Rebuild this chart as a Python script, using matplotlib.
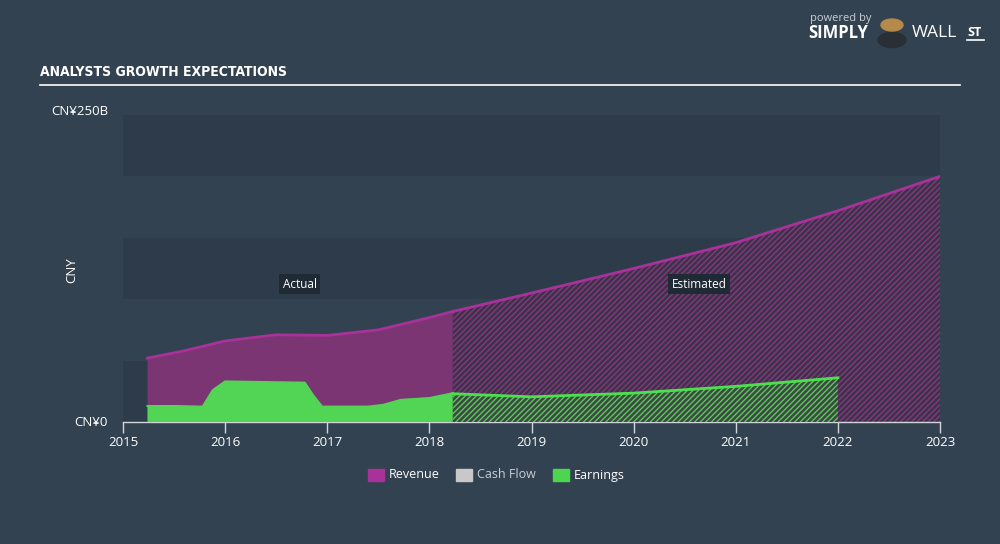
import matplotlib.pyplot as plt
import numpy as np

# data, in CNY billions
rev_act_x = [2015.24, 2015.6, 2016.0, 2016.5, 2017.0, 2017.5, 2018.0, 2018.23]
rev_act_y = [52, 58, 66, 71, 70.5, 75, 85, 90]
rev_est_x = [2018.23, 2019.0, 2020.0, 2021.0, 2022.0, 2023.0]
rev_est_y = [90, 105, 125, 146, 172, 200]

earn_act_x = [2015.24, 2015.5, 2015.78, 2015.88, 2016.0, 2016.4, 2016.78, 2016.86,
              2016.95, 2017.4, 2017.55, 2017.72, 2018.0, 2018.15, 2018.23]
earn_act_y = [13, 13, 12.5, 26, 33, 32.5, 32, 22, 12.5, 12.5, 14, 18, 19.5, 22, 23.5]
earn_est_x = [2018.23, 2019.0, 2020.0, 2021.0, 2022.0]
earn_est_y = [23, 20.5, 23.5, 29, 36]

years = list(range(2015, 2024))
legend_names = ["Revenue", "Cash Flow", "Earnings"]
legend_colors = ["#a8329a", "#c8c8c8", "#4cd54f"]

bg = "#334250"
band_dark = "#2e3b4a"

plt.rcParams['font.family'] = ['Open Sans', 'DejaVu Sans']
plt.rcParams['hatch.linewidth'] = 1.0

fig = plt.figure(figsize=(10, 5.44), dpi=100, facecolor=bg)
ax = fig.add_axes([0.123, 0.2243, 0.817, 0.5643])
ax.set_facecolor(bg)
ax.set_xlim(2015, 2023)
ax.set_ylim(0, 250)

# alternating bands
for lo in (0, 100, 200):
    ax.axhspan(lo, lo + 50, color=band_dark, lw=0, zorder=0)

# actual
ax.fill_between(rev_act_x, 0, rev_act_y, facecolor="#7a3572", lw=0, zorder=2)
ax.plot(rev_act_x, rev_act_y, color="#a8329a", lw=2, zorder=4)
ax.fill_between(earn_act_x, 0, earn_act_y, facecolor="#52d454", lw=0, zorder=3)
ax.plot(earn_act_x, earn_act_y, color="#52d454", lw=1.5, zorder=4)

# estimated, hatched
ax.fill_between(rev_est_x, 0, rev_est_y, facecolor="#3a3447", hatch="//////",
                edgecolor="#8a3584", lw=0, zorder=2)
ax.plot(rev_est_x, rev_est_y, color="#a8329a", lw=2, zorder=4)
ax.fill_between(earn_est_x, 0, earn_est_y, facecolor="#3a4a42", hatch="//////",
                edgecolor="#5fc65c", lw=0, zorder=3)
ax.plot(earn_est_x, earn_est_y, color="#4ce04c", lw=2, zorder=4)

ax.text(2016.73, 112, "Actual", color="white", fontsize=8.5, ha="center", va="center",
        bbox=dict(boxstyle="square,pad=0.3", fc="#1f2a35", ec="none"), zorder=6)
ax.text(2020.64, 112, "Estimated", color="white", fontsize=8.5, ha="center", va="center",
        bbox=dict(boxstyle="square,pad=0.3", fc="#1f2a35", ec="none"), zorder=6)

for s in ("top", "right", "left"):
    ax.spines[s].set_visible(False)
ax.spines["bottom"].set_color("#d0d6dc")
ax.spines["bottom"].set_linewidth(1)
ax.set_xticks(years)
ax.set_xticklabels([str(y) for y in years])
ax.tick_params(axis="x", colors="#d0d6dc", length=8, width=1, labelsize=9.5,
               labelcolor="white", pad=2)
ax.set_yticks([])

fig.text(0.108, 1 - 422 / 544, "CN¥0", color="white", fontsize=9.5, ha="right", va="center")
fig.text(0.108, 1 - 112 / 544, "CN¥250B", color="white", fontsize=9.5, ha="right", va="center")
fig.text(0.072, 1 - 270 / 544, "CNY", color="white", fontsize=9.5, rotation=90,
         ha="center", va="center")

# title + rule
fig.text(0.040, 1 - 72 / 544, "ANALYSTS GROWTH EXPECTATIONS", color="white", fontsize=10,
         fontweight="bold", fontstretch="condensed", ha="left", va="center",
         family=['DejaVu Sans'])
fig.add_artist(plt.Line2D([0.040, 0.960], [1 - 85 / 544, 1 - 85 / 544],
                          color="white", lw=1.2, transform=fig.transFigure))

# logo text
fig.text(0.810, 1 - 19 / 544, "powered by", color="#c8ced4", fontsize=8, ha="left", va="center")
fig.text(0.808, 1 - 33 / 544, "SIMPLY", color="white", fontsize=12, fontweight="bold",
         ha="left", va="center")
fig.text(0.912, 1 - 33 / 544, "WALL", color="white", fontsize=12.5, ha="left", va="center")
fig.text(0.967, 1 - 32 / 544, "ST", color="white", fontsize=9, fontweight="bold",
         ha="left", va="center")
fig.add_artist(plt.Line2D([0.967, 0.984], [1 - 40 / 544, 1 - 40 / 544],
                          color="white", lw=1.2, transform=fig.transFigure))
fig.add_artist(plt.Circle((0.892, 1 - 40 / 544), 0.014, color="#2a2f36",
                          transform=fig.transFigure))
fig.add_artist(plt.Circle((0.892, 1 - 25 / 544), 0.011, color="#b58a4a",
                          transform=fig.transFigure))

# legend
lx = [0.368, 0.456, 0.553]
for x, name, c in zip(lx, legend_names, legend_colors):
    fig.add_artist(plt.Rectangle((x, 1 - 481 / 544), 0.016, 0.022, color=c,
                                 transform=fig.transFigure))
    fig.text(x + 0.021, 1 - 475 / 544, name, color="white" if name != "Cash Flow" else "#c8ced4",
             fontsize=9, ha="left", va="center")

fig.savefig("out.png", dpi=100, facecolor=bg)
